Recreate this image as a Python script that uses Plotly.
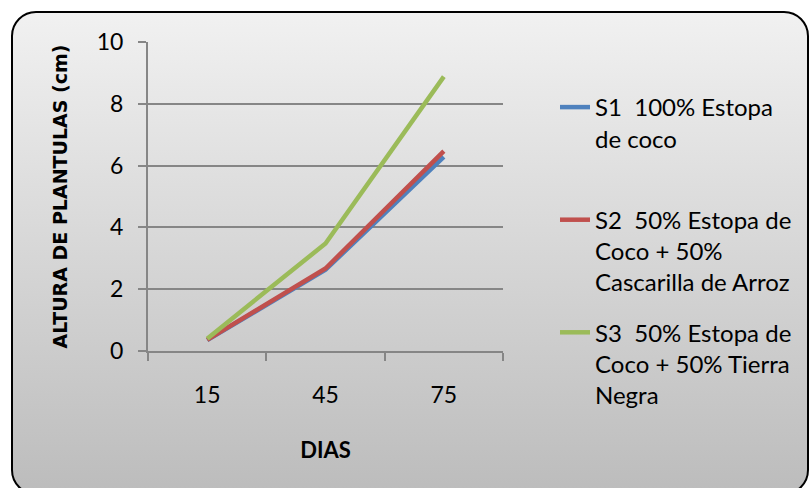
import base64
import plotly.graph_objects as go

# Days after sowing (categorical x axis)
dias = ["15", "45", "75"]

# Mean seedling height (cm) per substrate
s1_estopa = [0.35, 2.63, 6.28]
s2_cascarilla = [0.36, 2.67, 6.47]
s3_tierra = [0.40, 3.48, 8.88]

series_names = [
    "S1  100% Estopa<br>de coco<br> ",
    "S2  50% Estopa de<br>Coco + 50%<br>Cascarilla de Arroz",
    "S3  50% Estopa de<br>Coco + 50% Tierra<br>Negra",
]
series_colors = ["#4F81BD", "#C0504D", "#9BBB59"]
y_ticks = [0, 2, 4, 6, 8, 10]

W, H = 812, 488
FONT = "Lato, 'Open Sans', sans-serif"

fig = go.Figure()
for i, (name, vals, col) in enumerate(zip(series_names, [s1_estopa, s2_cascarilla, s3_tierra], series_colors)):
    fig.add_trace(go.Scatter(
        x=dias, y=vals, name=name, mode="lines", legendgroup=f"g{i}",
        line=dict(color=col, width=4.5),
    ))

# Chart-area background: rounded frame with a light-to-dark grey vertical gradient
svg = f"""<svg xmlns='http://www.w3.org/2000/svg' width='{W}' height='{H}' viewBox='0 0 {W} {H}' preserveAspectRatio='none'>
<defs><linearGradient id='g' x1='0' y1='0' x2='0' y2='1'>
<stop offset='0' stop-color='#f1f1f1'/><stop offset='1' stop-color='#bcbcbc'/>
</linearGradient></defs>
<rect x='12' y='12' width='796' height='482' rx='24' ry='24' fill='url(#g)' stroke='#000' stroke-width='2'/>
</svg>"""
src = "data:image/svg+xml;base64," + base64.b64encode(svg.encode()).decode()

fig.update_layout(
    width=W, height=H,
    margin=dict(l=0, r=0, t=0, b=0, pad=0, autoexpand=False),
    paper_bgcolor="white",
    plot_bgcolor="white",
    font=dict(family=FONT, size=22, color="black"),
    images=[dict(source=src, xref="paper", yref="paper", x=0, y=1,
                 sizex=1, sizey=1, sizing="stretch", layer="below",
                 xanchor="left", yanchor="top")],
    showlegend=True,
    legend=dict(
        x=555 / W, y=1 - 85 / H, xanchor="left", yanchor="top",
        bgcolor="rgba(0,0,0,0)", font=dict(family=FONT, size=24),
        tracegroupgap=16, valign="top",
    ),
    xaxis=dict(
        domain=[148 / W, 503 / W],
        type="category",
        range=[-0.5, 2.5],
        automargin=False,
        showgrid=False,
        showline=True, linecolor="#868686", linewidth=2,
        ticks="outside", tickson="boundaries", ticklen=8,
        tickcolor="#868686", tickwidth=2,
        tickfont=dict(size=23),
        ticklabelstandoff=22,
        title=dict(text="<b>DIAS</b>", font=dict(size=22), standoff=36),
    ),
    yaxis=dict(
        domain=[1 - 351 / H, 1 - 42 / H],
        range=[0, 10],
        automargin=False,
        tickvals=y_ticks,
        showgrid=True, gridcolor="#868686", gridwidth=2,
        showline=True, linecolor="#868686", linewidth=2,
        ticks="outside", ticklen=8, tickcolor="#868686", tickwidth=2,
        tickfont=dict(size=23),
        ticklabelstandoff=10,
        zeroline=False,
        title=dict(text="<b>ALTURA DE PLANTULAS (cm)</b>",
                   font=dict(family="'DejaVu Sans', sans-serif", size=19),
                   standoff=24),
    ),
)

fig.write_html("out.html")
